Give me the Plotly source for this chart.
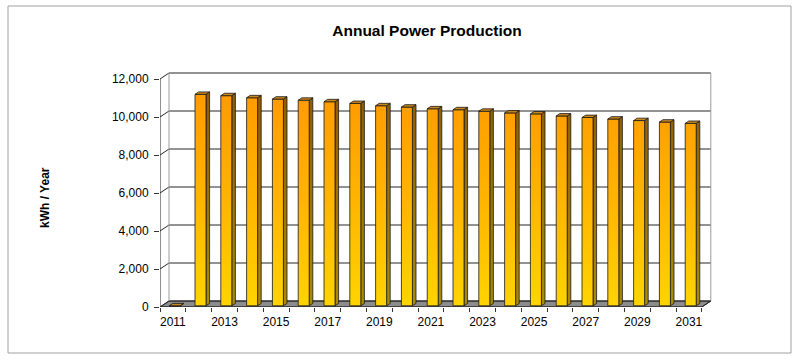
import plotly.graph_objects as go

# ---------------- data ----------------
years = list(range(2011, 2032))
production = [0, 11130, 11060, 10950, 10880, 10820, 10740, 10650, 10530, 10460,
              10370, 10320, 10240, 10150, 10100, 9990, 9910, 9830, 9750, 9670, 9600]
y_tick_vals = [0, 2000, 4000, 6000, 8000, 10000, 12000]
y_tick_text = ["0", "2,000", "4,000", "6,000", "8,000", "10,000", "12,000"]
x_label_years = years[::2]

# ---------------- 3D look parameters ----------------
DX = 0.349      # depth offset in category units
DY = 316        # depth offset in value units
BAR_W = 0.426
F0, F1 = 0.2, 0.6   # bar front / back depth fractions
Y_MAX = 12000
n = len(years)
xl, xr = -0.5, n - 0.5

fig = go.Figure()

def poly_trace(xs, ys, fill, line_color, lw, grad=None):
    kw = dict(x=xs, y=ys, mode="lines", fill="toself",
              line=dict(color=line_color, width=lw), hoverinfo="skip", showlegend=False)
    if grad is not None:
        kw["fillgradient"] = grad
    else:
        kw["fillcolor"] = fill
    return go.Scatter(**kw)

# floor
fig.add_trace(poly_trace([xl, xr, xr + DX, xl + DX, xl], [0, 0, DY, DY, 0],
                         "#8c8c8c", "#333333", 1))

# back wall gridlines
gx, gy = [], []
for v in y_tick_vals:
    gx += [xl, xl + DX, xr + DX, None]
    gy += [v, v + DY, v + DY, None]
fig.add_trace(go.Scatter(x=gx, y=gy, mode="lines", line=dict(color="#262626", width=1),
                         hoverinfo="skip", showlegend=False))
# wall edges
fig.add_trace(go.Scatter(x=[xl + DX, xl + DX, None, xr + DX, xr + DX],
                         y=[DY, Y_MAX + DY, None, DY, Y_MAX + DY],
                         mode="lines", line=dict(color="#9a9a9a", width=1),
                         hoverinfo="skip", showlegend=False))
# front axis lines
fig.add_trace(go.Scatter(x=[xl, xl, None, xl, xr, xr + DX],
                         y=[Y_MAX, 0, None, 0, 0, DY],
                         mode="lines", line=dict(color="#222222", width=1),
                         hoverinfo="skip", showlegend=False))

# bars
fx, fy, sx, sy, tx, ty = [], [], [], [], [], []
ddx, ddy = (F1 - F0) * DX, (F1 - F0) * DY
for i, v in enumerate(production):
    x0 = i - BAR_W / 2 + F0 * DX
    x1 = x0 + BAR_W
    y0 = F0 * DY
    y1 = v + F0 * DY
    fx += [x0, x1, x1, x0, x0, None]
    fy += [y0, y0, y1, y1, y0, None]
    sx += [x1, x1 + ddx, x1 + ddx, x1, x1, None]
    sy += [y0, y0 + ddy, y1 + ddy, y1, y0, None]
    tx += [x0, x1, x1 + ddx, x0 + ddx, x0, None]
    ty += [y1, y1, y1 + ddy, y1 + ddy, y1, None]

fig.add_trace(poly_trace(sx, sy, None, "#1a1a1a", 0.8,
                         grad=dict(type="vertical", start=0, stop=11400,
                                   colorscale=[[0, "#a88c08"], [1, "#8e5c04"]])))
fig.add_trace(poly_trace(fx, fy, None, "#1a1a1a", 0.8,
                         grad=dict(type="vertical", start=0, stop=11400,
                                   colorscale=[[0, "#ffd400"], [0.5, "#ffb400"], [1, "#ff9a00"]])))
fig.add_trace(poly_trace(tx, ty, "#c8861c", "#1a1a1a", 0.8))

# ---------------- layout ----------------
L, R, T, B = 160, 712, 72, 307
W, H = 799, 359
x_range = [xl, xl + (R - L) / 25.8]
y_range = [0, (B - T) / 0.019]

def px(X):
    return (X - L) / (R - L)

def py(Y):
    return (B - Y) / (B - T)

fig.update_layout(
    width=W, height=H,
    margin=dict(l=L, r=W - R, t=T, b=H - B),
    paper_bgcolor="white", plot_bgcolor="white",
    hovermode=False, showlegend=False,
    font=dict(family="Liberation Sans, Arial, sans-serif", color="#000000", size=12),
    title=dict(text="<b>Annual Power Production</b>", x=427 / W, y=1 - 31 / H,
               xref="container", yref="container", xanchor="center", yanchor="middle",
               font=dict(size=15.5, color="#000000")),
    xaxis=dict(range=x_range, showgrid=False, zeroline=False, showline=False,
               tickmode="array", tickvals=[years.index(y) for y in x_label_years],
               ticktext=[str(y) for y in x_label_years], ticks="", ticklabelstandoff=6,
               minor=dict(ticks="outside", ticklen=4, tickcolor="#333333",
                          tickmode="array", tickvals=[i - 0.5 for i in range(n + 1)]),
               tickfont=dict(size=12)),
    yaxis=dict(range=y_range, showgrid=False, zeroline=False, showline=False,
               tickmode="array", tickvals=y_tick_vals, ticktext=y_tick_text,
               ticks="outside", ticklen=5, tickcolor="#333333", ticklabelstandoff=3,
               tickfont=dict(size=12)),
    annotations=[dict(text="<b>kWh / Year</b>", textangle=-90, xref="paper", yref="paper",
                      x=px(45), y=py(198), showarrow=False, font=dict(size=12),
                      xanchor="center", yanchor="middle")],
    shapes=[dict(type="rect", xref="paper", yref="paper",
                 x0=px(8), x1=px(791), y0=py(353), y1=py(6),
                 line=dict(color="#a0a0a0", width=1), layer="below")],
)

fig.write_html("out.html", config={"displayModeBar": False, "staticPlot": True},
               post_script="document.body.style.margin='0';")
